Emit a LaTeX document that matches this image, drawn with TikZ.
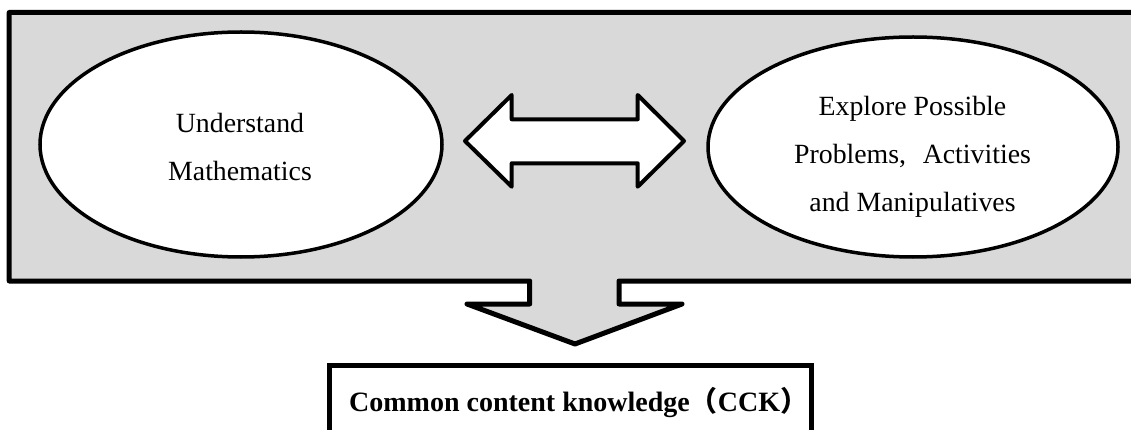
\documentclass[tikz,border=0pt]{standalone}
\usepackage{fontspec}
\setmainfont{Liberation Serif}
\newfontfamily\cjk{Noto Sans CJK SC}
\usetikzlibrary{shapes.geometric}
\definecolor{panelgray}{RGB}{217,217,217}
\begin{document}
\begin{tikzpicture}[x=1pt,y=-1pt,
  panel/.style={draw=black,fill=panelgray,line width=5pt,line join=round},
  oval/.style={ellipse,draw=black,fill=white,line width=3.5pt,inner sep=0pt},
  blockarrow/.style={draw=black,fill=white,line width=4pt,line join=round},
  ovaltext/.style={font=\fontsize{27.8}{48}\selectfont,align=center,inner sep=0pt},
  resultbox/.style={draw=black,fill=white,line width=5pt},
  resulttext/.style={font=\fontsize{28}{33}\selectfont\bfseries,inner sep=0pt}]
\useasboundingbox (0,0) rectangle (1131,430);
\clip (0,0) rectangle (1131,430);

% grey panel with the downward block arrow attached to its lower edge
\draw[panel] (1145,12.5) -- (9.2,12.5) -- (9.2,281) -- (529.7,281) -- (529.7,304)
  -- (467,304) -- (575,344) -- (682,304) -- (619,304) -- (619,281) -- (1145,281);

% the two activities
\node[oval,minimum width=402pt,minimum height=225pt] (math) at (241,144.5) {};
\node[oval,minimum width=410pt,minimum height=220pt] (explore) at (913,147) {};
\node[ovaltext] (mathtext) at (240,146.6) {Understand\\Mathematics};
\node[ovaltext] (exploretext) at (912.5,156.6)
  {Explore Possible\\Problems,\hspace{0.6em}Activities\\and Manipulatives};

% two-headed block arrow between the ovals
\draw[blockarrow] (465,141) -- (511.7,95) -- (511.7,119.3) -- (637.7,119.3)
  -- (637.7,95) -- (684,141) -- (637.7,186.7) -- (637.7,163.3)
  -- (511.7,163.3) -- (511.7,186.7) -- cycle;

% resulting knowledge box
\draw[resultbox] (329,365.5) rectangle (811.7,445);
\node[resulttext,anchor=base west] (cck) at (349,411.5)
  {Common content knowledge{\cjk （}CCK{\cjk ）}};
\end{tikzpicture}
\end{document}
